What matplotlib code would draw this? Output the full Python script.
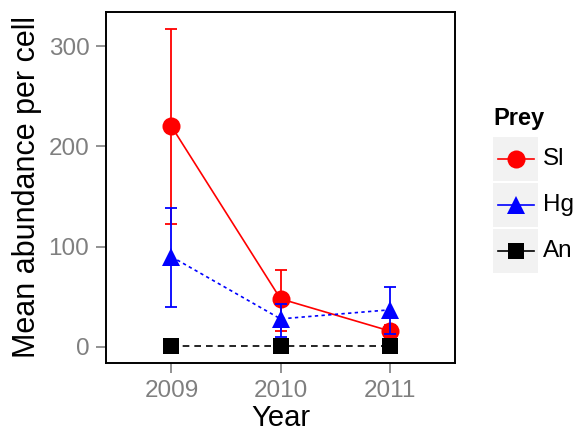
import matplotlib.pyplot as plt

plt.rcParams['font.family'] = ['Liberation Sans', 'DejaVu Sans']

years = [2009, 2010, 2011]
prey = ['Sl', 'Hg', 'An']

sl_mean = [220, 48, 16]
sl_lo = [123, 16, 10]
sl_hi = [317, 77, 22]

hg_mean = [90, 28, 37]
hg_lo = [40, 10, 13]
hg_hi = [139, 43, 60]

an_mean = [1, 1, 1]
an_lo = [1, 1, 1]
an_hi = [1, 1, 1]

colors = ['#FF0000', '#0000FF', '#000000']
markers = ['o', '^', 's']
msizes = [13, 13, 11]
styles = ['-', (0, (2, 2)), (0, (4, 3))]

means = [sl_mean, hg_mean, an_mean]
lows = [sl_lo, hg_lo, an_lo]
highs = [sl_hi, hg_hi, an_hi]

fig = plt.figure(figsize=(5.79, 4.48), dpi=100)
ax = fig.add_axes([106 / 579, 85 / 448, 349 / 579, 351 / 448])

for m, lo, hi, c, mk, ms, ls in zip(means, lows, highs, colors, markers, msizes, styles):
    yerr = [[a - b for a, b in zip(m, lo)], [b - a for a, b in zip(m, hi)]]
    ax.errorbar(years, m, yerr=yerr, color=c, ecolor=c, elinewidth=1.3,
                capsize=4.5, capthick=1.3, linestyle='none')
    ax.plot(years, m, color=c, linestyle=ls, linewidth=1.2, marker=mk,
            markersize=ms, markeredgewidth=0)

ax.set_xlim(2008.4, 2011.6)
ax.set_ylim(-16, 334)
ax.set_xticks(years)
ax.set_yticks([0, 100, 200, 300])
ax.tick_params(colors='#7F7F7F', labelsize=17.5, length=7, width=1.2, pad=5)
for s in ax.spines.values():
    s.set_color('#000000')
    s.set_linewidth(1.4)
ax.set_xlabel('Year', fontsize=21, labelpad=2)
ax.set_ylabel('Mean abundance per cell', fontsize=22, labelpad=5)

# legend drawn in figure pixel coordinates
lax = fig.add_axes([0, 0, 1, 1], facecolor='none')
lax.set_xlim(0, 579)
lax.set_ylim(448, 0)
lax.axis('off')
lax.text(493, 118, 'Prey', fontsize=17, fontweight='bold', va='center', ha='left')
for i, (p, c, mk, ms) in enumerate(zip(prey, colors, markers, msizes)):
    top = 137 + i * 46
    lax.add_patch(plt.Rectangle((493, top), 45, 44, facecolor='#F2F2F2', edgecolor='none'))
    cy = top + 22
    lax.plot([498, 534], [cy, cy], color=c, linewidth=1.2)
    lax.plot([516], [cy], color=c, marker=mk, markersize=ms, markeredgewidth=0)
    lax.text(543, cy, p, fontsize=17.5, va='center', ha='left')

fig.savefig('out.png', dpi=100)
